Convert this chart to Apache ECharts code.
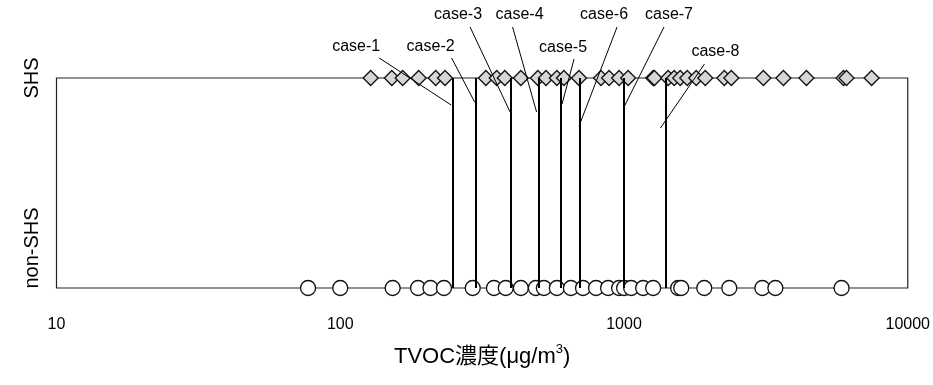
<!DOCTYPE html>
<html><head><meta charset="utf-8">
<script src="https://cdn.jsdelivr.net/npm/echarts@6/dist/echarts.min.js"></script>
<style>html,body{margin:0;padding:0;background:#fff}#c{width:933px;height:385px}</style>
</head><body><div id="c"></div>
<script>
// ---------- data ----------
const groups = ['non-SHS', 'SHS'];
const shsValues = [128, 152, 166, 189, 217, 234, 326, 356, 380, 433, 497, 531, 580, 614, 694, 830, 886, 961, 1034, 1267, 1280, 1431, 1503, 1578, 1671, 1797, 1934, 2257, 2389, 3099, 3646, 4395, 5938, 6084, 7458];
const nonShsValues = [77, 100, 153, 188, 208, 232, 293, 348, 383, 433, 489, 522, 580, 650, 717, 797, 879, 961, 1001, 1060, 1168, 1267, 1552, 1591, 1918, 2350, 3073, 3416, 5844];
const caseNames = ['case-1', 'case-2', 'case-3', 'case-4', 'case-5', 'case-6', 'case-7', 'case-8'];
const caseThresholds = [250, 300, 400, 500, 600, 700, 1000, 1400];
const xMin = 10, xMax = 10000;
const axisTitle = 'TVOC濃度(μg/m{sup|3})';

// ---------- layout (pixel offsets from each case line) ----------
const caseLayout = [
  {lx: -97, ly: 47, sx: -74, sy: 58, ex: -2, ey: 105},
  {lx: -45, ly: 47, sx: -24, sy: 58, ex: -1, ey: 102},
  {lx: -53, ly: 15, sx: -41, sy: 27, ex: -1, ey: 112},
  {lx: -19, ly: 15, sx: -26, sy: 27, ex: -2, ey: 112},
  {lx: 2,   ly: 48, sx: 13,  sy: 59, ex: 1,  ey: 104},
  {lx: 24,  ly: 15, sx: 37,  sy: 27, ex: -1, ey: 126},
  {lx: 45,  ly: 15, sx: 40,  sy: 27, ex: 0,  ey: 107},
  {lx: 50,  ly: 52, sx: 39,  sy: 64, ex: -5, ey: 128}
];

const REG = '"Liberation Sans", Arial, sans-serif';

const chart = echarts.init(document.getElementById('c'), null, {renderer: 'canvas'});

const option = {
  animation: false,
  backgroundColor: '#fff',
  grid: {left: 56.5, right: 25, top: 78, bottom: 97, show: true, borderColor: '#222', borderWidth: 1.2, backgroundColor: 'transparent'},
  xAxis: {
    type: 'log', logBase: 10, min: xMin, max: xMax,
    axisLine: {show: false}, axisTick: {show: false}, splitLine: {show: false},
    axisLabel: {color: '#000', fontSize: 16, fontFamily: REG, margin: 29, formatter: v => String(v)},
    name: axisTitle, nameLocation: 'middle', nameGap: 55,
    nameTextStyle: {color: '#000', fontSize: 22, fontFamily: REG + ', "Noto Sans CJK JP"', lineHeight: 28,
      rich: {sup: {fontSize: 13, fontFamily: REG, verticalAlign: 'top', lineHeight: 14, color: '#000'}}}
  },
  yAxis: {
    type: 'category', data: groups, boundaryGap: false,
    axisLine: {show: false}, axisTick: {show: false}, splitLine: {show: false},
    axisLabel: {
      rotate: 90, margin: 14, color: '#000', fontSize: 20, fontFamily: REG,
      formatter: function (v) { return v === 'non-SHS' ? '{n|' + v + '}' : '{s|' + v + '}'; },
      rich: {
        n: {fontSize: 20, fontFamily: REG, color: '#000', padding: [0, 0, 0, 80]},
        s: {fontSize: 20, fontFamily: REG, color: '#000'}
      }
    }
  },
  series: [
    {
      type: 'scatter', name: 'non-SHS', clip: false, z: 3,
      symbol: 'circle', symbolSize: 15,
      itemStyle: {color: '#fff', borderColor: '#111', borderWidth: 1.3, opacity: 1},
      data: nonShsValues.map(v => [v, groups[0]]),
      markLine: {
        silent: true, symbol: 'none', z: 5,
        label: {show: false},
        lineStyle: {color: '#000', width: 2, type: 'solid'},
        data: caseThresholds.map(t => [{coord: [t, groups[0]]}, {coord: [t, groups[1]]}])
      }
    },
    {
      type: 'scatter', name: 'SHS', clip: false, z: 3,
      symbol: 'diamond', symbolSize: [15, 15],
      itemStyle: {color: '#d6d6d6', borderColor: '#111', borderWidth: 1.3, opacity: 1},
      data: shsValues.map(v => [v, groups[1]])
    }
  ]
};
chart.setOption(option);

// annotations: case labels with leader lines, anchored to each threshold's pixel position
const gfx = [];
caseThresholds.forEach((t, i) => {
  const T = chart.convertToPixel({xAxisIndex: 0}, t);
  const L = caseLayout[i];
  gfx.push({
    type: 'text', x: T + L.lx, y: L.ly, z: 10,
    style: {text: caseNames[i], fontSize: 16, fontFamily: REG, fill: '#000', align: 'center', verticalAlign: 'middle'}
  });
  gfx.push({
    type: 'line', z: 10,
    shape: {x1: T + L.sx, y1: L.sy, x2: T + L.ex, y2: L.ey},
    style: {stroke: '#000', lineWidth: 1}
  });
});
chart.setOption({graphic: gfx});
</script>
</body></html>
